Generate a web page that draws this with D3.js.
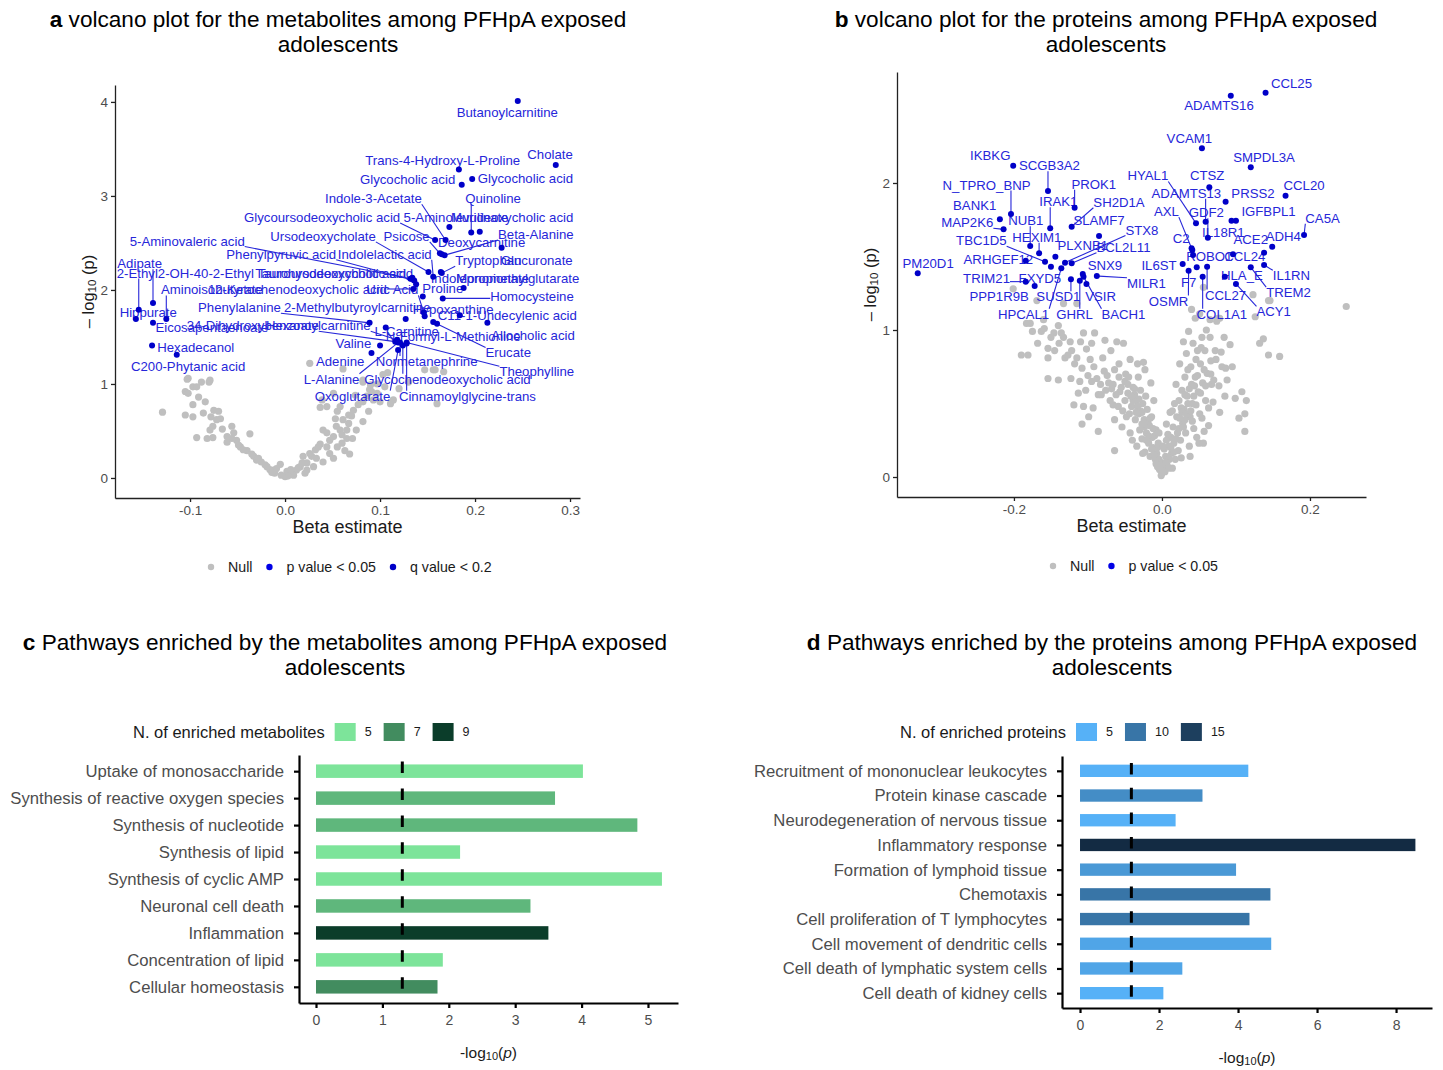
<!DOCTYPE html>
<html>
<head>
<meta charset="utf-8">
<script src="https://cdn.jsdelivr.net/npm/d3@7"></script>
<style>
  body { margin: 0; background: #fff; }
  svg { display: block; }
  text { font-family: "Liberation Sans", Arial, sans-serif; }
</style>
</head>
<body>
<svg id="fig" width="1443" height="1070"></svg>
<script>
// ---------- panel a : metabolites volcano ----------
const metNames = [
  "Butanoylcarnitine", "Cholate", "Trans-4-Hydroxy-L-Proline", "Glycocholic acid", "Glycocholic acid",
  "Indole-3-Acetate", "Quinoline", "Glycoursodeoxycholic acid", "5-Aminolevulinate", "Murideoxycholic acid",
  "Ursodeoxycholate", "Psicose", "Deoxycarnitine", "Beta-Alanine", "5-Aminovaleric acid",
  "Phenylpyruvic acid", "Indolelactic acid", "Tryptophan", "Glucuronate", "Adipate",
  "2-Ethyl2-OH-40-2-Ethyl", "Taurohyodeoxycholic acid", "Tauroursodeoxycholic acid", "Hippurate", "Aminoisobutyrate",
  "12-Ketochenodeoxycholic acid", "Uric Acid", "Proline", "Monomethylglutarate", "Indolepropionate",
  "Homocysteine", "Hypoxanthine", "C11-1-Undecylenic acid", "Allocholic acid", "N-Formyl-L-Methionine",
  "Erucate", "L-Carnitine", "Phenylalanine", "2-Methylbutyroylcarnitine", "Eicosapentaenoate",
  "34-Dihydroxybenzoate", "Hexanoylcarnitine", "Valine", "Adenine", "Normetanephrine",
  "Theophylline", "L-Alanine", "Glycochenodeoxycholic acid", "Oxoglutarate", "Cinnamoylglycine-trans",
  "Hexadecanol", "C200-Phytanic acid"
];
const metBeta = [
  0.245, 0.285, 0.183, 0.186, 0.197,
  0.169, 0.196, 0.158, 0.173, 0.205,
  0.151, 0.163, 0.165, 0.168, 0.132,
  0.136, 0.156, 0.165, 0.228, -0.139,
  -0.154, 0.138, 0.134, -0.157, -0.125,
  0.135, 0.146, 0.145, 0.188, 0.164,
  0.166, 0.147, 0.184, 0.213, 0.156,
  0.160, 0.106, 0.089, 0.127, -0.139,
  0.116, 0.118, 0.100, 0.091, 0.121,
  0.128, 0.119, 0.124, 0.119, 0.128,
  -0.140, -0.114
];
const metLogp = [
  4.01, 3.33, 3.28, 3.12, 3.18,
  2.53, 2.61, 2.53, 2.67, 2.62,
  2.19, 2.39, 2.38, 2.37, 2.12,
  2.10, 2.14, 2.18, 2.45, 1.86,
  1.79, 2.06, 2.13, 1.69, 1.69,
  2.01, 1.76, 1.93, 2.02, 2.19,
  1.91, 1.72, 1.73, 1.65, 1.66,
  1.64, 1.60, 1.65, 1.69, 1.65,
  1.45, 1.47, 1.41, 1.33, 1.44,
  1.44, 1.44, 1.41, 1.36, 1.43,
  1.41, 1.31
];
// repelled label centres, in data units
const metLabelBeta = [
  0.234, 0.279, 0.166, 0.129, 0.253,
  0.093, 0.219, 0.039, 0.180, 0.239,
  0.040, 0.128, 0.207, 0.264, -0.103,
  -0.004, 0.105, 0.214, 0.265, -0.153,
  -0.105, 0.048, 0.053, -0.144, -0.077,
  0.013, 0.113, 0.166, 0.245, 0.205,
  0.260, 0.177, 0.234, 0.261, 0.177,
  0.235, 0.128, -0.048, 0.076, -0.077,
  -0.034, 0.035, 0.072, 0.058, 0.149,
  0.265, 0.049, 0.171, 0.071, 0.192,
  -0.094, -0.102
];
const metLabelLogp = [
  3.89, 3.44, 3.38, 3.17, 3.19,
  2.97, 2.97, 2.77, 2.77, 2.77,
  2.57, 2.57, 2.50, 2.59, 2.52,
  2.38, 2.38, 2.31, 2.31, 2.28,
  2.18, 2.18, 2.17, 1.76, 2.00,
  2.00, 2.00, 2.02, 2.12, 2.12,
  1.93, 1.79, 1.73, 1.52, 1.51,
  1.33, 1.56, 1.81, 1.81, 1.60,
  1.62, 1.62, 1.43, 1.24, 1.24,
  1.13, 1.05, 1.05, 0.87, 0.87,
  1.39, 1.19
];
const metNull = [
  [-0.129,0.70],[-0.103,1.05],[-0.105,0.92],[-0.097,0.97],[-0.088,1.02],[-0.080,1.02],[-0.102,0.90],
  [-0.091,0.86],[-0.084,0.81],[-0.097,0.78],[-0.105,0.67],[-0.097,0.65],[-0.086,0.69],[-0.078,0.65],
  [-0.070,0.71],[-0.072,0.62],[-0.076,0.55],[-0.066,0.52],[-0.093,0.43],[-0.082,0.42],[-0.076,0.43],
  [-0.061,0.38],[-0.056,0.55],[-0.054,0.48],[-0.051,0.40],[-0.047,0.33],[-0.040,0.29],[-0.037,0.47],
  [-0.033,0.23],[-0.030,0.19],[-0.025,0.17],[-0.019,0.12],[-0.012,0.085],[-0.005,0.145],[-0.004,0.03],
  [0.000,0.015],[0.007,0.05],[0.012,0.085],[0.018,0.16],[0.019,0.23],[0.023,0.16],[0.028,0.23],
  [0.032,0.30],[0.037,0.36],[0.040,0.51],[0.044,0.48],[0.047,0.40],[0.051,0.44],[0.054,0.55],
  [0.055,0.33],[0.060,0.37],[0.065,0.42],[0.067,0.58],[0.071,0.42],[0.068,0.255],[0.063,0.29],
  [0.037,0.75],[0.055,0.71],[0.061,0.62],[0.067,0.67],[0.072,0.72],[0.077,0.78],[0.082,0.81],
  [0.086,0.87],[0.088,0.71],[0.093,0.83],[0.097,0.90],[0.100,0.81],[0.105,0.97],[0.111,0.79],
  [0.108,1.12],[0.090,0.99],[0.082,1.04],[0.103,1.10],[0.160,0.79],[0.167,1.13],[0.156,1.15],
  [0.026,1.22],[0.051,0.90],[0.044,0.76],[0.074,0.88],[0.082,0.60],[0.075,0.51],[0.016,0.12],
  [0.009,0.03],[0.003,0.02],[-0.011,0.05],[-0.016,0.09],[-0.021,0.14],[-0.028,0.21],[-0.035,0.255],
  [-0.044,0.30],[-0.049,0.35],[-0.056,0.42],[-0.061,0.44],[-0.068,0.63],[-0.075,0.72],[-0.079,0.51],
  [0.026,0.26],[0.033,0.21],[0.047,0.26],[0.040,0.17],[0.030,0.12],[0.023,0.085],[0.021,0.05],
  [0.002,0.07],[-0.009,0.10],[0.058,0.51],[0.053,0.63],[0.060,0.46],[0.044,0.33],[0.051,0.21],
  [0.065,0.51],[0.089,0.94],[0.097,1.00],[0.061,1.16],[0.082,1.02],[0.147,1.15],[0.158,1.15],
  [0.091,0.92],[0.114,0.83],[0.039,0.83],[0.058,0.76],[-0.102,1.06],[-0.093,0.97],[-0.079,1.04],
  [0.120,0.95],[0.130,1.02],[0.014,0.11],[-0.014,0.06],[0.006,0.09],[0.035,0.33],[0.070,0.66]
];

// ---------- panel b : proteins volcano ----------
const protNames = [
  "IKBKG", "SCGB3A2", "N_TPRO_BNP", "PROK1", "BANK1", "IRAK1", "SH2D1A", "MAP2K6", "NUB1", "SLAMF7",
  "STX8", "TBC1D5", "HEXIM1", "PLXNB1", "BCL2L11", "PM20D1", "ARHGEF12", "SNX9", "TRIM21", "FXYD5",
  "MILR1", "PPP1R9B", "SUSD1", "VSIR", "HPCAL1", "GHRL", "BACH1", "CCL25", "ADAMTS16", "VCAM1",
  "SMPDL3A", "HYAL1", "CTSZ", "ADAMTS13", "PRSS2", "CCL20", "GDF2", "AXL", "IGFBPL1", "IL18R1",
  "CA5A", "ADH4", "ACE2", "C2", "ROBO1", "CCL24", "IL6ST", "HLA_E", "IL1RN", "F7",
  "TREM2", "OSMR", "CCL27", "COL1A1", "ACY1"
];
const protBeta = [
  -0.201, -0.154, -0.204, -0.118, -0.219, -0.151, -0.122, -0.214, -0.178, -0.085,
  -0.131, -0.158, -0.166, -0.144, -0.122, -0.330, -0.184, -0.107, -0.184, -0.150,
  -0.088, -0.172, -0.123, -0.102, -0.136, -0.111, -0.106, 0.140, 0.093, 0.054,
  0.120, 0.046, 0.064, 0.059, 0.086, 0.167, 0.062, 0.041, 0.100, 0.094,
  0.192, 0.149, 0.096, 0.040, 0.042, 0.138, 0.028, 0.085, 0.138, 0.047,
  0.120, 0.036, 0.061, 0.055, 0.100
];
const protLogp = [
  2.118, 1.946, 1.789, 1.832, 1.753, 1.692, 1.703, 1.685, 1.571, 1.639,
  1.458, 1.465, 1.522, 1.499, 1.454, 1.386, 1.471, 1.381, 1.329, 1.431,
  1.367, 1.299, 1.345, 1.313, 1.420, 1.335, 1.363, 2.614, 2.594, 2.236,
  2.107, 1.726, 1.971, 1.737, 1.873, 1.914, 1.628, 1.544, 1.744, 1.744,
  1.646, 1.567, 1.515, 1.556, 1.510, 1.526, 1.449, 1.363, 1.442, 1.427,
  1.427, 1.403, 1.431, 1.363, 1.313
];
const protLabelBeta = [
  -0.232, -0.152, -0.237, -0.092, -0.253, -0.140, -0.058, -0.263, -0.184, -0.085,
  -0.027, -0.244, -0.169, -0.107, -0.052, -0.316, -0.221, -0.077, -0.237, -0.165,
  -0.021, -0.220, -0.140, -0.083, -0.187, -0.118, -0.052, 0.175, 0.077, 0.037,
  0.138, -0.019, 0.061, 0.033, 0.123, 0.192, 0.060, 0.006, 0.144, 0.083,
  0.217, 0.164, 0.120, 0.026, 0.064, 0.112, -0.004, 0.108, 0.175, 0.036,
  0.171, 0.009, 0.086, 0.081, 0.151
];
const protLabelLogp = [
  2.184, 2.118, 1.986, 1.991, 1.850, 1.873, 1.869, 1.730, 1.744, 1.744,
  1.680, 1.607, 1.631, 1.578, 1.563, 1.454, 1.481, 1.442, 1.352, 1.352,
  1.318, 1.231, 1.227, 1.231, 1.107, 1.107, 1.107, 2.678, 2.524, 2.304,
  2.175, 2.048, 2.054, 1.930, 1.930, 1.980, 1.798, 1.805, 1.805, 1.665,
  1.760, 1.635, 1.617, 1.624, 1.499, 1.499, 1.442, 1.374, 1.369, 1.324,
  1.254, 1.197, 1.238, 1.107, 1.124
];
const protNull = [
  [-0.190,0.83],[-0.181,0.83],[-0.183,1.045],[-0.175,0.99],[-0.168,0.91],[-0.163,0.99],[-0.159,1.01],
  [-0.154,0.875],[-0.154,0.81],[-0.154,0.67],[-0.146,0.98],[-0.140,0.66],[-0.139,0.91],[-0.133,0.95],
  [-0.131,0.81],[-0.124,0.92],[-0.123,0.67],[-0.122,0.86],[-0.119,0.49],[-0.115,0.81],[-0.113,0.57],
  [-0.111,0.65],[-0.108,0.74],[-0.108,0.36],[-0.106,0.48],[-0.106,0.98],[-0.103,0.59],[-0.100,0.69],
  [-0.099,0.41],[-0.095,0.91],[-0.095,0.65],[-0.093,0.47],[-0.091,0.98],[-0.086,0.31],[-0.086,0.56],
  [-0.083,0.63],[-0.080,0.81],[-0.077,0.93],[-0.076,0.59],[-0.074,0.69],[-0.070,0.52],[-0.066,0.63],
  [-0.064,0.73],[-0.064,0.39],[-0.064,0.18],[-0.061,0.92],[-0.059,0.48],[-0.057,0.58],[-0.054,0.34],
  [-0.052,0.91],[-0.050,0.65],[-0.050,0.52],[-0.048,0.41],[-0.046,0.57],[-0.043,0.80],[-0.043,0.30],
  [-0.041,0.48],[-0.040,0.25],[-0.039,0.61],[-0.036,0.39],[-0.035,0.52],[-0.034,0.21],[-0.033,0.77],
  [-0.032,0.68],[-0.031,0.43],[-0.030,0.32],[-0.029,0.59],[-0.027,0.26],[-0.026,0.50],[-0.025,0.78],
  [-0.024,0.39],[-0.023,0.17],[-0.023,0.73],[-0.022,0.55],[-0.021,0.30],[-0.020,0.46],[-0.018,0.23],
  [-0.017,0.35],[-0.016,0.14],[-0.015,0.64],[-0.014,0.41],[-0.013,0.27],[-0.012,0.20],[-0.011,0.52],
  [-0.009,0.12],[-0.008,0.32],[-0.007,0.16],[-0.006,0.07],[-0.005,0.23],[-0.004,0.12],[-0.003,0.05],
  [0.000,0.025],[0.002,0.07],[0.004,0.036],[0.005,0.14],[0.006,0.36],[0.007,0.08],[0.009,0.21],
  [0.010,0.12],[0.012,0.27],[0.013,0.16],[0.014,0.06],[0.015,0.34],[0.016,0.23],[0.018,0.12],
  [0.019,0.63],[0.020,0.41],[0.021,0.30],[0.022,0.18],[0.023,0.52],[0.024,0.77],[0.025,0.25],
  [0.027,0.59],[0.028,0.365],[0.029,0.92],[0.030,0.46],[0.031,0.68],[0.032,0.30],[0.033,0.84],
  [0.034,0.55],[0.036,0.99],[0.037,0.21],[0.038,0.14],[0.038,0.41],[0.039,0.75],[0.040,0.63],
  [0.041,0.50],[0.042,0.91],[0.043,0.33],[0.045,0.68],[0.047,0.27],[0.048,0.86],[0.049,0.58],
  [0.050,0.23],[0.051,0.43],[0.052,0.77],[0.054,0.95],[0.055,0.64],[0.056,0.23],[0.057,0.31],
  [0.058,0.86],[0.059,0.52],[0.060,1.00],[0.061,0.705],[0.063,0.35],[0.065,0.95],[0.067,0.63],
  [0.069,0.51],[0.072,0.86],[0.074,1.06],[0.076,1.08],[0.078,0.44],[0.081,0.75],[0.085,0.55],
  [0.086,0.74],[0.092,0.90],[0.099,0.535],[0.112,0.43],[0.112,0.31],[0.114,0.52],[0.132,0.91],
  [0.137,0.94],[0.144,0.83],[0.159,0.82],[0.249,1.16],[0.146,1.20],[0.056,1.29],[0.040,1.14],
  [0.051,1.11],[0.065,1.07],[0.078,1.08],[0.123,1.24],[0.126,1.09],[0.144,1.20],[0.045,1.08],
  [-0.201,1.28],[-0.169,1.20],[-0.160,1.07],[-0.133,1.18],[-0.178,1.045],[-0.115,1.18],[-0.140,1.03],
  [-0.010,0.28],[0.003,0.19],[-0.002,0.10],[0.008,0.29],[0.011,0.44],[-0.019,0.37],[0.026,0.47],
  [-0.027,0.44],[0.017,0.50],[-0.012,0.33],[0.006,0.25],[-0.006,0.20],[0.031,0.56],[-0.037,0.60],
  [0.035,0.73],[-0.045,0.68],[0.046,0.80],[-0.058,0.77],[0.053,0.88],[-0.069,0.86],[0.066,0.79],
  [-0.001,0.01],[0.001,0.04],[-0.004,0.06],[0.005,0.10],[-0.008,0.09],[0.009,0.06],[-0.011,0.15],
  [0.012,0.20],[-0.014,0.19],[0.016,0.17],[-0.018,0.28],[0.019,0.26],[-0.021,0.25],[0.023,0.33],
  [-0.024,0.34],[0.024,0.40],[-0.027,0.36],[0.027,0.44],[-0.029,0.45],[0.029,0.34],[-0.031,0.53],
  [0.031,0.39],[-0.033,0.48],[0.033,0.43],[-0.035,0.44],[0.035,0.50],[-0.037,0.56],[0.037,0.60],
  [-0.039,0.52],[0.039,0.45],[-0.042,0.55],[0.041,0.38],[-0.044,0.43],[0.043,0.55],[-0.046,0.63],
  [0.044,0.62],[-0.049,0.70],[0.046,0.49],[-0.053,0.45],[0.048,0.69],[-0.055,0.61],[0.052,0.57],
  [-0.058,0.68],[0.054,0.40],[-0.062,0.56],[0.057,0.73],[-0.066,0.49],[0.059,0.62],[-0.068,0.60],
  [0.063,0.47],[-0.072,0.64],[0.066,0.70],[-0.078,0.72],[0.070,0.66],[-0.082,0.56],[0.073,0.80],
  [-0.088,0.67],[0.077,0.62],[-0.092,0.75],[0.080,0.85],[-0.097,0.80],[0.084,0.95],[-0.102,0.87],
  [-0.110,0.92],[-0.118,0.77],[-0.127,0.83],[-0.136,0.98],[-0.145,0.86],[-0.150,0.95],[0.088,0.66],
  [0.095,0.75],[0.104,0.40],[0.108,0.58],[-0.016,0.40],[0.014,0.45],[-0.026,0.16],[0.026,0.13],
  [-0.004,0.30],[0.001,0.21]
];

// ---------- panel c : metabolite pathways ----------
const metPathways = [
  "Uptake of monosaccharide", "Synthesis of reactive oxygen species", "Synthesis of nucleotide",
  "Synthesis of lipid", "Synthesis of cyclic AMP", "Neuronal cell death", "Inflammation",
  "Concentration of lipid", "Cellular homeostasis"
];
const metPathwayLogp = [4.02, 3.60, 4.84, 2.17, 5.21, 3.23, 3.50, 1.91, 1.83];
const metPathwayCount = [5, 6, 6, 5, 5, 6, 9, 5, 7];
const metCountTicks = [5, 7, 9];
const metPathTicks = [0, 1, 2, 3, 4, 5];

// ---------- panel d : protein pathways ----------
const protPathways = [
  "Recruitment of mononuclear leukocytes", "Protein kinase cascade", "Neurodegeneration of nervous tissue",
  "Inflammatory response", "Formation of lymphoid tissue", "Chemotaxis", "Cell proliferation of T lymphocytes",
  "Cell movement of dendritic cells", "Cell death of lymphatic system cells", "Cell death of kidney cells"
];
const protPathwayLogp = [4.26, 3.10, 2.42, 8.49, 3.95, 4.82, 4.29, 4.84, 2.59, 2.11];
const protPathwayCount = [5, 8, 5, 17, 7, 10, 10, 6, 6, 5];
const protCountTicks = [5, 10, 15];
const protPathTicks = [0, 2, 4, 6, 8];

const pThreshold = 1.3;   // -log10(0.05)

// ---------------------------------------------------------------
const svg = d3.select("#fig");
const TXT = "#1a1a1a", AX = "#4d4d4d";
const LABEL_BLUE = "#2626d9", DOT_BLUE = "#0000c8", NULL_GREY = "#bfbfbf";
const FONT = '"Liberation Sans", Arial, sans-serif';
const hyphen = f => v => f(v).replace("\u2212", "-");

function title(letter, line1, cx, y) {
  const t = svg.append("text").attr("x", cx).attr("y", y)
    .attr("text-anchor", "middle").style("font-size", "22.6px").attr("fill", "#000");
  t.append("tspan").style("font-weight", "bold").text(letter + " ");
  t.append("tspan").text(line1);
  svg.append("text").attr("x", cx).attr("y", y + 25)
    .attr("text-anchor", "middle").style("font-size", "22.6px").attr("fill", "#000")
    .text("adolescents");
}

function styleAxis(g, size, color) {
  g.select(".domain").attr("stroke", "#222").attr("stroke-width", 1.3);
  g.selectAll(".tick line").attr("stroke", "#222").attr("stroke-width", 1.3);
  g.selectAll(".tick text").attr("fill", color).style("font-size", size + "px")
    .style("font-family", FONT);
}

function volcano(o) {
  const x = d3.scaleLinear().domain(o.xDomain).range([o.left, o.right]);
  const y = d3.scaleLinear().domain(o.yDomain).range([o.bottom, o.top]);

  const gx = svg.append("g").attr("transform", `translate(0,${o.bottom})`)
    .call(d3.axisBottom(x).tickValues(o.xTicks).tickFormat(hyphen(d3.format(".1f")))
      .tickSize(4).tickPadding(3).tickSizeOuter(0));
  styleAxis(gx, 13.5, AX);
  const gy = svg.append("g").attr("transform", `translate(${o.left},0)`)
    .call(d3.axisLeft(y).tickValues(o.yTicks).tickFormat(d3.format("d"))
      .tickSize(4).tickPadding(3).tickSizeOuter(0));
  styleAxis(gy, 13.5, AX);

  svg.append("g").selectAll("circle").data(o.nullPts).join("circle")
    .attr("cx", d => x(d[0])).attr("cy", d => y(d[1])).attr("r", 3.6)
    .attr("fill", NULL_GREY);

  const lab = svg.append("g");
  const seg = svg.append("g");
  const texts = lab.selectAll("text").data(o.names).join("text")
    .attr("x", (d, i) => x(o.labBeta[i])).attr("y", (d, i) => y(o.labLogp[i]))
    .attr("text-anchor", "middle").attr("dominant-baseline", "central")
    .style("font-size", "13.2px").attr("fill", LABEL_BLUE).text(d => d);

  texts.each(function (d, i) {
    const bb = this.getBBox();
    const px = x(o.beta[i]), py = y(o.logp[i]);
    const cx = Math.max(bb.x, Math.min(px, bb.x + bb.width));
    const cy = Math.max(bb.y + 2, Math.min(py, bb.y + bb.height - 2));
    const dist = Math.hypot(px - cx, py - cy);
    if (dist > 10) {
      const k = (dist - 2) / dist;
      seg.append("line").attr("x1", cx).attr("y1", cy)
        .attr("x2", cx + (px - cx) * k).attr("y2", cy + (py - cy) * k)
        .attr("stroke", LABEL_BLUE).attr("stroke-width", 1.1);
    }
  });

  svg.append("g").selectAll("circle").data(o.names).join("circle")
    .attr("cx", (d, i) => x(o.beta[i])).attr("cy", (d, i) => y(o.logp[i])).attr("r", 3)
    .attr("fill", DOT_BLUE);

  svg.append("text").attr("x", (o.left + o.right) / 2).attr("y", o.bottom + 29)
    .attr("text-anchor", "middle").attr("dominant-baseline", "central")
    .style("font-size", "18px").attr("fill", TXT).text("Beta estimate");

  const yt = svg.append("text")
    .attr("transform", `translate(${o.left - 27},${(o.top + o.bottom) / 2}) rotate(-90)`)
    .attr("text-anchor", "middle").attr("dominant-baseline", "central")
    .style("font-size", "16.5px").attr("fill", TXT);
  yt.append("tspan").text("\u2013 log");
  yt.append("tspan").attr("dy", 4).style("font-size", "11.5px").text("10");
  yt.append("tspan").attr("dy", -4).text(" (p)");

  // legend
  let lx = o.legendX;
  o.legend.forEach(item => {
    svg.append("circle").attr("cx", lx).attr("cy", o.legendY).attr("r", 3.2).attr("fill", item.color);
    const t = svg.append("text").attr("x", lx + 17).attr("y", o.legendY)
      .attr("dominant-baseline", "central").style("font-size", "14.2px").attr("fill", TXT)
      .text(item.label);
    lx += 17 + t.node().getComputedTextLength() + 17;
  });
}

function pathways(o) {
  const x = d3.scaleLinear().domain(o.xDomain).range([o.left, o.right]);
  const y = d3.scalePoint().domain(o.cats).range([o.top, o.bottom]).padding(0.6);
  const color = d3.scaleLinear().domain(o.countDomain).range(o.colors)
    .interpolate(d3.interpolateLab);
  const bh = y.step() * 0.5;

  svg.append("g").selectAll("rect").data(o.cats).join("rect")
    .attr("x", x(0)).attr("y", d => y(d) - bh / 2)
    .attr("width", (d, i) => x(o.values[i]) - x(0)).attr("height", bh)
    .attr("fill", (d, i) => color(o.counts[i]));

  svg.append("line").attr("x1", x(pThreshold)).attr("x2", x(pThreshold))
    .attr("y1", o.dashTop).attr("y2", o.bottom)
    .attr("stroke", "#000").attr("stroke-width", 3)
    .attr("stroke-dasharray", `11.5,${y.step() - 11.5}`);

  const gx = svg.append("g").attr("transform", `translate(0,${o.bottom})`)
    .call(d3.axisBottom(x).tickValues(o.ticks).tickFormat(d3.format("d"))
      .tickSize(5).tickPadding(7).tickSizeOuter(0));
  const gy = svg.append("g").attr("transform", `translate(${o.left},0)`)
    .call(d3.axisLeft(y).tickSize(5).tickPadding(10).tickSizeOuter(0));
  [gx, gy].forEach(g => {
    g.select(".domain").attr("stroke", "#000").attr("stroke-width", 2.2);
    g.selectAll(".tick line").attr("stroke", "#000").attr("stroke-width", 2.2);
    g.selectAll(".tick text").attr("fill", AX).style("font-family", FONT);
  });
  gx.selectAll(".tick text").style("font-size", "14px");
  gy.selectAll(".tick text").style("font-size", "16.7px");

  const xt = svg.append("text").attr("x", (o.left + o.right) / 2).attr("y", o.bottom + 49)
    .attr("text-anchor", "middle").attr("dominant-baseline", "central")
    .style("font-size", "15.5px").attr("fill", TXT);
  xt.append("tspan").text("-log");
  xt.append("tspan").attr("dy", 4).style("font-size", "11px").text("10");
  xt.append("tspan").attr("dy", -4).text("(");
  xt.append("tspan").style("font-style", "italic").text("p");
  xt.append("tspan").text(")");

  // legend
  const t = svg.append("text").attr("x", o.legendX).attr("y", o.legendY)
    .attr("dominant-baseline", "central").style("font-size", "16.5px").attr("fill", TXT)
    .text(o.legendTitle);
  let kx = o.legendX + t.node().getComputedTextLength() + 10;
  o.countTicks.forEach(c => {
    svg.append("rect").attr("x", kx).attr("y", o.legendY - 9).attr("width", 21).attr("height", 18)
      .attr("fill", color(c));
    const l = svg.append("text").attr("x", kx + 30).attr("y", o.legendY)
      .attr("dominant-baseline", "central").style("font-size", "12.5px").attr("fill", TXT)
      .text(c);
    kx += 30 + l.node().getComputedTextLength() + 12;
  });
}

title("a", "volcano plot for the metabolites among PFHpA exposed", 338, 27);
title("b", "volcano plot for the proteins among PFHpA exposed", 1106, 27);
title("c", "Pathways enriched by the metabolites among PFHpA exposed", 345, 650);
title("d", "Pathways enriched by the proteins among PFHpA exposed", 1112, 650);

volcano({
  names: metNames, beta: metBeta, logp: metLogp, labBeta: metLabelBeta, labLogp: metLabelLogp,
  nullPts: metNull, xDomain: [-0.179, 0.3105], yDomain: [-0.213, 4.18],
  left: 115, right: 580, top: 85, bottom: 498,
  xTicks: [-0.1, 0, 0.1, 0.2, 0.3], yTicks: [0, 1, 2, 3, 4],
  legendX: 211, legendY: 567,
  legend: [
    { label: "Null", color: NULL_GREY },
    { label: "p value < 0.05", color: "#0000e6" },
    { label: "q value < 0.2", color: DOT_BLUE }
  ]
});

volcano({
  names: protNames, beta: protBeta, logp: protLogp, labBeta: protLabelBeta, labLogp: protLabelLogp,
  nullPts: protNull, xDomain: [-0.358, 0.2757], yDomain: [-0.136, 2.755],
  left: 897, right: 1366, top: 72, bottom: 497,
  xTicks: [-0.2, 0, 0.2], yTicks: [0, 1, 2],
  legendX: 1053, legendY: 566,
  legend: [
    { label: "Null", color: NULL_GREY },
    { label: "p value < 0.05", color: "#0000e6" }
  ]
});

pathways({
  cats: metPathways, values: metPathwayLogp, counts: metPathwayCount,
  countDomain: [5, 9], colors: ["#7de49a", "#0b3d2a"], countTicks: metCountTicks,
  xDomain: [-0.256, 5.452], ticks: metPathTicks,
  left: 299, right: 678, top: 755, bottom: 1003, dashTop: 761.5,
  legendTitle: "N. of enriched metabolites", legendX: 133, legendY: 732
});

pathways({
  cats: protPathways, values: protPathwayLogp, counts: protPathwayCount,
  countDomain: [5, 17], colors: ["#56b1f7", "#132b43"], countTicks: protCountTicks,
  xDomain: [-0.456, 8.91], ticks: protPathTicks,
  left: 1062, right: 1432, top: 756, bottom: 1008, dashTop: 763,
  legendTitle: "N. of enriched proteins", legendX: 900, legendY: 732
});
</script>
</body>
</html>
